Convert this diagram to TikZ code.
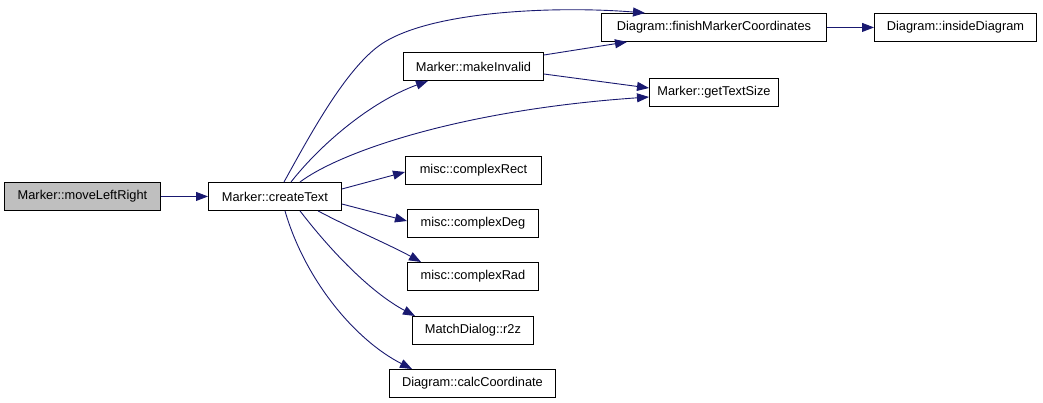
\documentclass[tikz,border=0pt]{standalone}
\usepackage{fontspec}
\setmainfont{Liberation Sans}
\usetikzlibrary{arrows.meta,calc}
\definecolor{edgeblue}{RGB}{25,25,112}
\definecolor{graybox}{RGB}{191,191,191}
\tikzset{
  fn/.style={draw=black, line width=0.9pt, fill=white, rectangle, minimum height=28pt, inner sep=0pt, anchor=north west, font=\fontsize{12.8}{15}\selectfont},
  call/.style={draw=edgeblue, line width=0.9pt, -{Triangle[length=12pt,width=9pt]}},
}
\begin{document}
\begin{tikzpicture}[x=1pt,y=-1pt]
\useasboundingbox (0,0) rectangle (1043,403);
\node[fn, fill=graybox, minimum width=156pt] (mlr) at (4,182) {Marker::moveLeftRight};
\node[fn, minimum width=133pt] (ct) at (208,182) {Marker::createText};
\node[fn, minimum width=140pt] (mi) at (403,52) {Marker::makeInvalid};
\node[fn, minimum width=225pt] (fmc) at (601,13) {Diagram::finishMarkerCoordinates};
\node[fn, minimum width=162pt] (ids) at (874,13) {Diagram::insideDiagram};
\node[fn, minimum width=129pt] (gts) at (649,78) {Marker::getTextSize};
\node[fn, minimum width=136pt] (rect) at (405,156) {misc::complexRect};
\node[fn, minimum width=131pt] (deg) at (407,209) {misc::complexDeg};
\node[fn, minimum width=131pt] (rad) at (407,262) {misc::complexRad};
\node[fn, minimum width=121pt] (r2z) at (412,316) {MatchDialog::r2z};
\node[fn, minimum width=166pt] (calc) at (389,369) {Diagram::calcCoordinate};

\draw[call] (mlr.east) -- (ct.west);
\draw[call] ($(ct.north west)+(76,0)$) .. controls (310,135) and (345,70) .. (380,45)
  .. controls (430,10) and (560,6) .. ($(fmc.north west)+(44,0)$);
\draw[call] ($(ct.north west)+(83,0)$) .. controls (320,145) and (370,102) .. ($(mi.south west)+(25,0)$);
\draw[call] ($(ct.north west)+(92,0)$) .. controls (340,152) and (460,110) .. ($(gts.north west)+(0,19)$);
\draw[call] ($(mi.north east)+(0,3)$) -- ($(fmc.south west)+(26,0)$);
\draw[call] ($(mi.north east)+(0,22)$) -- ($(gts.north west)+(0,10)$);
\draw[call] (fmc.east) -- (ids.west);
\draw[call] ($(ct.north east)+(0,7)$) -- ($(rect.north west)+(0,16)$);
\draw[call] ($(ct.north east)+(0,22)$) -- ($(deg.north west)+(0,12)$);
\draw[call] ($(ct.south west)+(110,0)$) .. controls (350,228) and (390,245) .. ($(rad.north west)+(14,0)$);
\draw[call] ($(ct.south west)+(92,0)$) .. controls (330,250) and (370,292) .. ($(r2z.north west)+(3,0)$);
\draw[call] ($(ct.south west)+(77,0)$) .. controls (305,280) and (355,340) .. ($(calc.north west)+(23,0)$);
\end{tikzpicture}
\end{document}
